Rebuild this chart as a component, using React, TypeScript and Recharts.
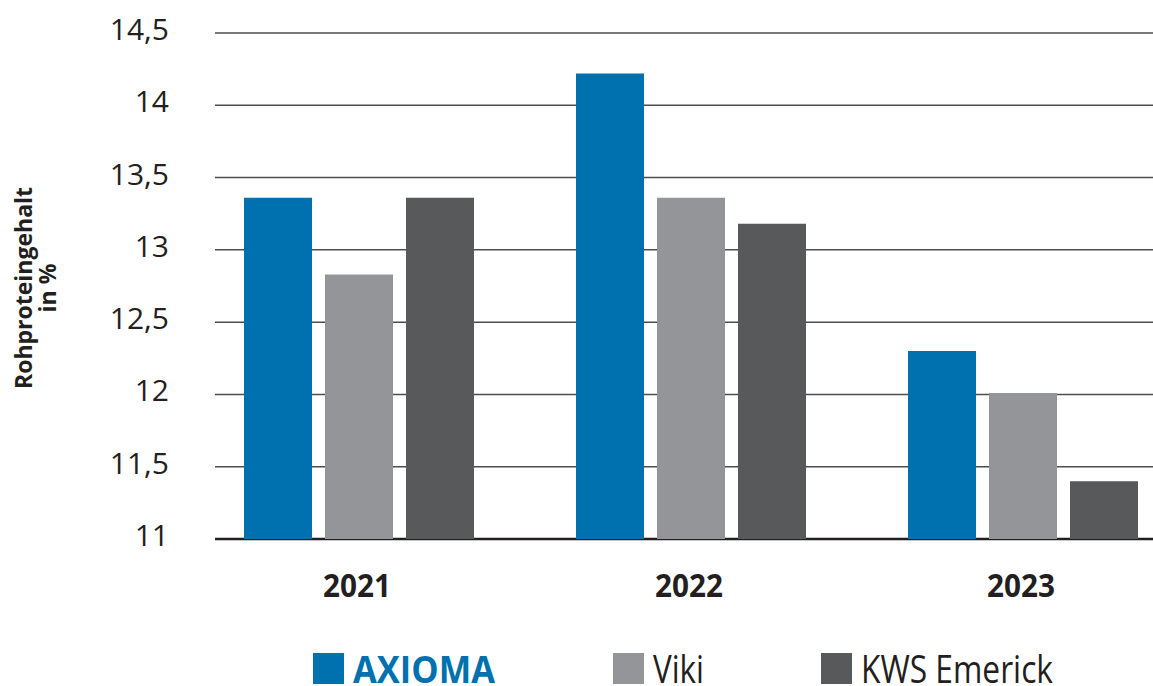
import React from "react";
import { BarChart, Bar, XAxis, YAxis, CartesianGrid, Legend } from "recharts";

const years = ["2021", "2022", "2023"];
const axioma = [13.36, 14.22, 12.3];
const viki = [12.83, 13.36, 12.01];
const kws = [13.36, 13.18, 11.4];
const yTicks = [11, 11.5, 12, 12.5, 13, 13.5, 14, 14.5];

const data = years.map((year, i) => ({ year, axioma: axioma[i], viki: viki[i], kws: kws[i] }));

const TEXT = "#231f20";
const FONT = "'Open Sans', sans-serif";

// legend layout: square x, label width (the original face is a condensed one)
const series = [
  { key: "axioma", name: "AXIOMA", color: "#0071af", bold: true, textColor: "#0071af", lx: 313, tw: 142 },
  { key: "viki", name: "Viki", color: "#939598", bold: false, textColor: TEXT, lx: 613, tw: 51 },
  { key: "kws", name: "KWS Emerick", color: "#58595b", bold: false, textColor: TEXT, lx: 821, tw: 192 },
];

const gridLine = (props: any) => {
  const isBase = Math.abs(props.y1 - 539) < 2;
  return (
    <line
      key={props.key}
      x1={215}
      x2={1153}
      y1={props.y1}
      y2={props.y2}
      stroke={isBase ? TEXT : "#4d4d4f"}
      strokeWidth={isBase ? 2.5 : 1.5}
    />
  );
};

const YTick = ({ x, y, payload }: any) => (
  <text x={x} y={y + 7} textAnchor="end" fontSize={30} fill={TEXT} fontFamily={FONT}>
    {String(payload.value).replace(".", ",")}
  </text>
);

const XTick = ({ x, y, payload }: any) => (
  <text
    x={x - 2}
    y={y + 58}
    textAnchor="middle"
    fontSize={33}
    fontWeight={700}
    fill={TEXT}
    fontFamily={FONT}
    textLength={68}
    lengthAdjust="spacingAndGlyphs"
  >
    {payload.value}
  </text>
);

const YLabel = () => (
  <g fontFamily={FONT} fontWeight={700} fontSize={23} fill={TEXT}>
    <text x={32} y={288} textAnchor="middle" transform="rotate(-90, 32, 288)">
      Rohproteingehalt
    </text>
    <text x={56} y={288} textAnchor="middle" transform="rotate(-90, 56, 288)">
      in %
    </text>
  </g>
);

const renderLegend = () => (
  <svg width={1200} height={40} style={{ display: "block" }}>
    {series.map((s) => (
      <g key={s.key}>
        <rect x={s.lx} y={7} width={31} height={31} fill={s.color} />
        <text
          x={s.lx + 40}
          y={37}
          fontFamily={FONT}
          fontSize={38}
          fontWeight={s.bold ? 700 : 400}
          fill={s.textColor}
          textLength={s.tw}
          lengthAdjust="spacingAndGlyphs"
        >
          {s.name}
        </text>
      </g>
    ))}
  </svg>
);

export default function App() {
  return (
    <div style={{ position: "absolute", left: 0, top: 0, width: 1153, height: 686, overflow: "hidden", background: "#fff" }}>
      <BarChart
        width={1200}
        height={686}
        data={data}
        margin={{ top: 33, right: 11, bottom: 0, left: 0 }}
        barSize={68}
        barGap={13}
      >
        <CartesianGrid vertical={false} horizontal={gridLine} />
        <XAxis dataKey="year" axisLine={false} tickLine={false} tickSize={0} tickMargin={0} height={107} tick={<XTick />} />
        <YAxis
          type="number"
          domain={[11, 14.5]}
          ticks={yTicks}
          width={193}
          axisLine={false}
          tickLine={false}
          tickSize={0}
          tickMargin={24}
          tick={<YTick />}
          label={{ content: <YLabel /> }}
        />
        <Legend verticalAlign="bottom" height={40} content={renderLegend} wrapperStyle={{ left: 0, bottom: 0 }} />
        {series.map((s) => (
          <Bar key={s.key} dataKey={s.key} name={s.name} fill={s.color} isAnimationActive={false} />
        ))}
      </BarChart>
    </div>
  );
}
